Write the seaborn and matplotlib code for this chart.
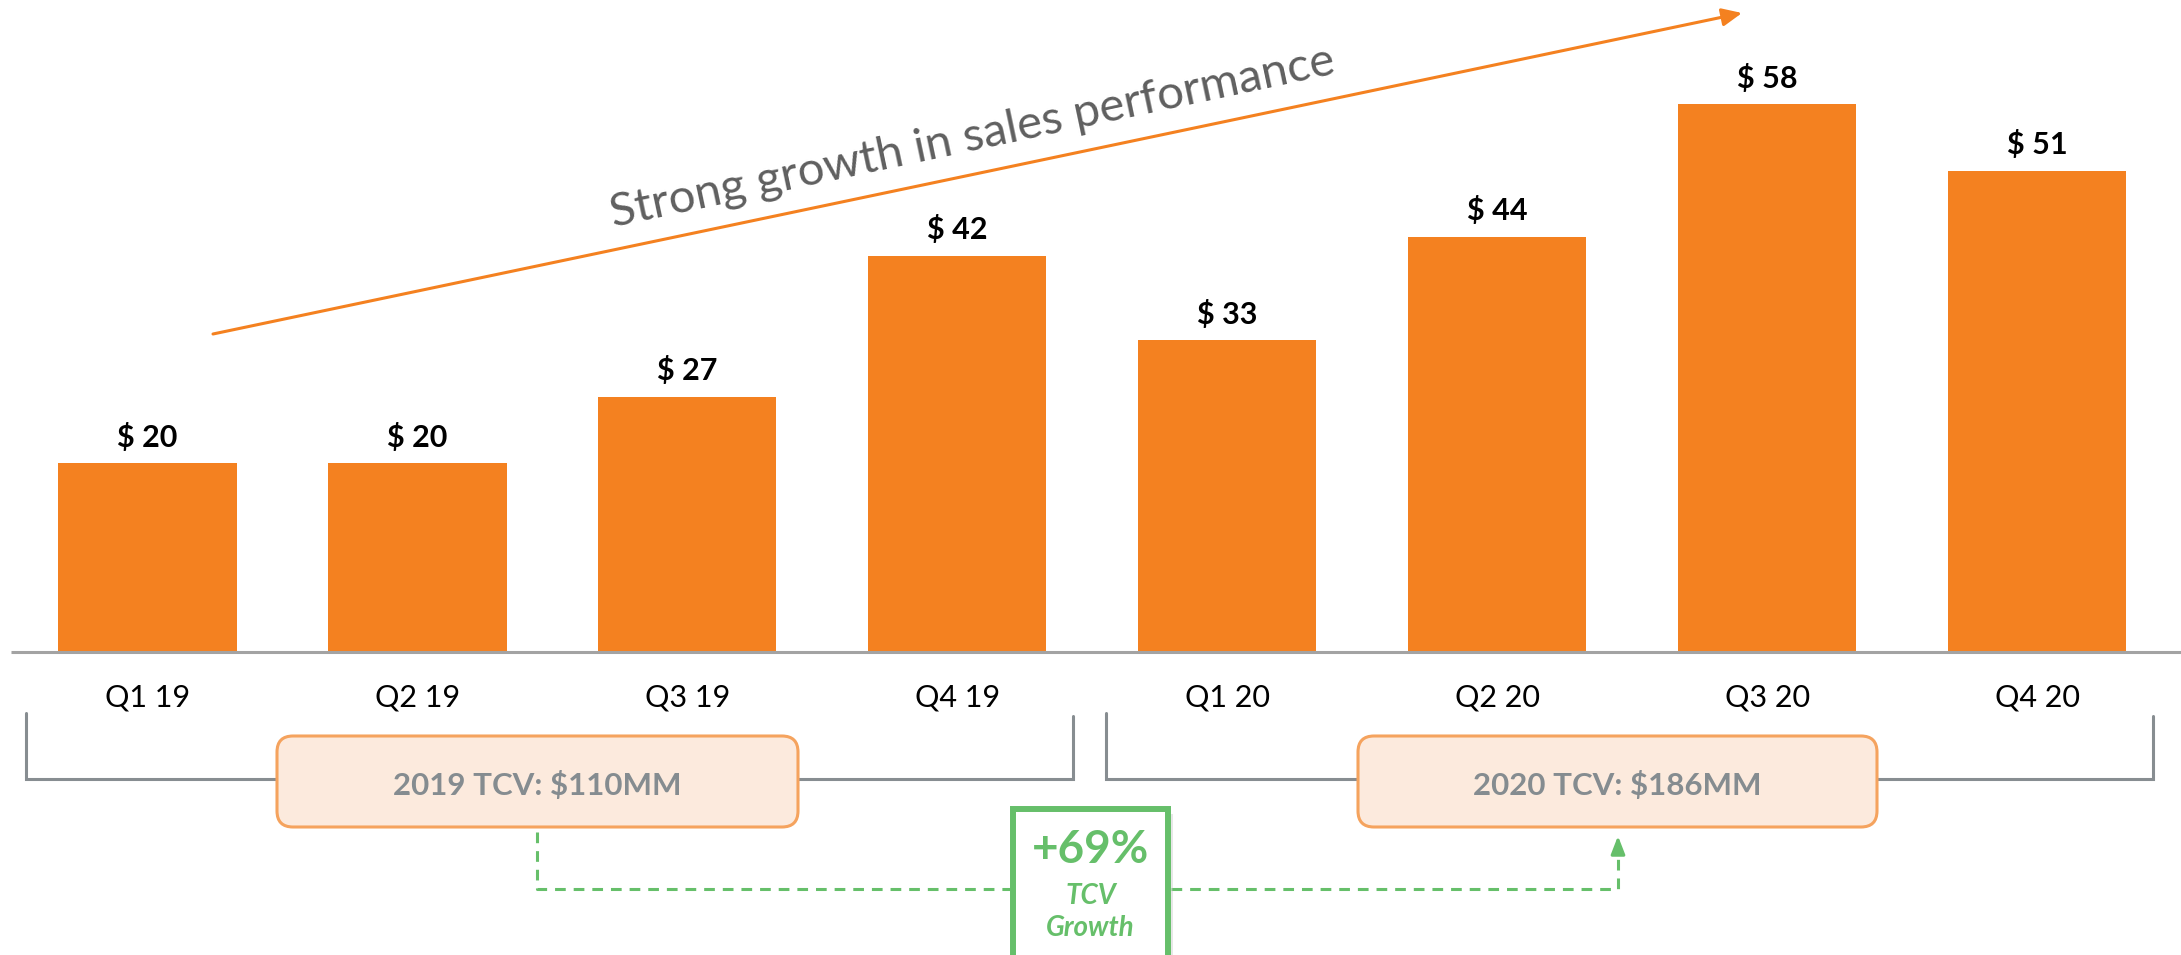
import matplotlib
matplotlib.use("Agg")
import matplotlib.pyplot as plt
import matplotlib.transforms as mtransforms
from matplotlib.patches import FancyBboxPatch, Rectangle
import pandas as pd
import seaborn as sns

# Quarterly TCV ($MM)
quarters = ["Q1 19", "Q2 19", "Q3 19", "Q4 19", "Q1 20", "Q2 20", "Q3 20", "Q4 20"]
tcv = [20, 20, 27, 42, 33, 44, 58, 51]
year_labels = ["2019 TCV: $110MM", "2020 TCV: $186MM"]
growth_label = "+69%"
growth_sub = ["TCV", "Growth"]
headline = "Strong growth in sales performance"

ORANGE = "#F48120"
GRAY_LINE = "#878D91"
BOX_FILL = "#FCEADD"
BOX_EDGE = "#F5A35E"
BOX_TEXT = "#858C90"
GREEN = "#66BF6A"

sns.set_theme(style="white")
plt.rcParams["font.family"] = ["Lato", "DejaVu Sans"]

W, H, DPI = 2181, 955, 100
fig = plt.figure(figsize=(W / DPI, H / DPI), dpi=DPI)

# Data axes spans the full canvas; the value scale places the baseline near 68% down
ax = fig.add_axes([0, 0, 1, 1])
df = pd.DataFrame({"quarter": quarters, "tcv": tcv})
sns.barplot(data=df, x="quarter", y="tcv", color=ORANGE, saturation=1,
            width=0.66, ax=ax, edgecolor="none")
ax.set_xlim(-0.546, 7.532)
ax.set_ylim(-32.1, 69.07)
ax.axis("off")

# Pixel overlay for the annotations
ov = fig.add_axes([0, 0, 1, 1], facecolor="none")
ov.set_xlim(0, W)
ov.set_ylim(H, 0)
ov.axis("off")
xdata_ypix = mtransforms.blended_transform_factory(ax.transData, ov.transData)

# Baseline
ov.plot([11, W], [652, 652], color="#A3A3A3", lw=2.2, solid_capstyle="butt")

# Value labels above bars
for i, v in enumerate(tcv):
    ax.annotate(f"$ {v}", xy=(i, v), xytext=(0, 12), textcoords="offset points",
                ha="center", va="baseline", fontsize=22, fontweight="bold",
                color="black")

# Category labels
for i, q in enumerate(quarters):
    ov.text(i, 706, q, transform=xdata_ypix, ha="center", va="baseline",
            fontsize=22, color="black")

# Year brackets
for start in (0, 4):
    x0, x1 = start - 0.45, start + 3.43
    ov.plot([x0, x0, x1, x1], [713, 779, 779, 716], transform=xdata_ypix,
            color=GRAY_LINE, lw=2.2, solid_joinstyle="miter")

# Year total boxes
for (bx0, bx1), label in zip([(277, 798), (1358, 1877)], year_labels):
    box = FancyBboxPatch((bx0, 736), bx1 - bx0, 827 - 736,
                         boxstyle="round,pad=0,rounding_size=16",
                         facecolor=BOX_FILL, edgecolor=BOX_EDGE, lw=2.2, zorder=3)
    ov.add_patch(box)
    ov.text((bx0 + bx1) / 2, 795, label, ha="center", va="baseline",
            fontsize=22.5, fontweight="bold", color=BOX_TEXT, zorder=4)

# Growth connector
dash = dict(color=GREEN, lw=2.2, dashes=(3.5, 2.6))
ov.plot([537, 537, 1010], [832, 889, 889], **dash)
ov.plot([1171, 1618, 1618], [889, 889, 846], **dash)
ov.annotate("", xy=(1618, 836), xytext=(1618, 850),
            arrowprops=dict(arrowstyle="-|>,head_length=0.9,head_width=0.35",
                            color=GREEN, lw=2.2, shrinkA=0, shrinkB=0))

# Growth callout box with a faint shadow
ov.add_patch(Rectangle((1018, 814), 155, 150, facecolor="#bdbdbd", alpha=0.35,
                       edgecolor="none", zorder=4))
ov.add_patch(Rectangle((1013, 809), 155, 150, facecolor="white",
                       edgecolor=GREEN, lw=4.3, zorder=5))
gx = (1010 + 1171) / 2
ov.text(gx, 863, growth_label, ha="center", va="baseline", fontsize=33,
        fontweight="bold", color=GREEN, zorder=6)
ov.text(gx, 904, growth_sub[0], ha="center", va="baseline", fontsize=20,
        fontweight="bold", fontstyle="italic", color=GREEN, zorder=6)
ov.text(gx, 936, growth_sub[1], ha="center", va="baseline", fontsize=20,
        fontweight="bold", fontstyle="italic", color=GREEN, zorder=6)

# Trend arrow and headline
ov.annotate("", xy=(1742, 13), xytext=(213, 334),
            arrowprops=dict(arrowstyle="-|>,head_length=1.0,head_width=0.45",
                            color=ORANGE, lw=2.2, shrinkA=0, shrinkB=0))
ov.text(972, 138, headline, rotation=12, rotation_mode="anchor",
        ha="center", va="center", fontsize=34, fontweight="normal",
        color="#5F5F5F")

fig.savefig("out.png", dpi=DPI)
